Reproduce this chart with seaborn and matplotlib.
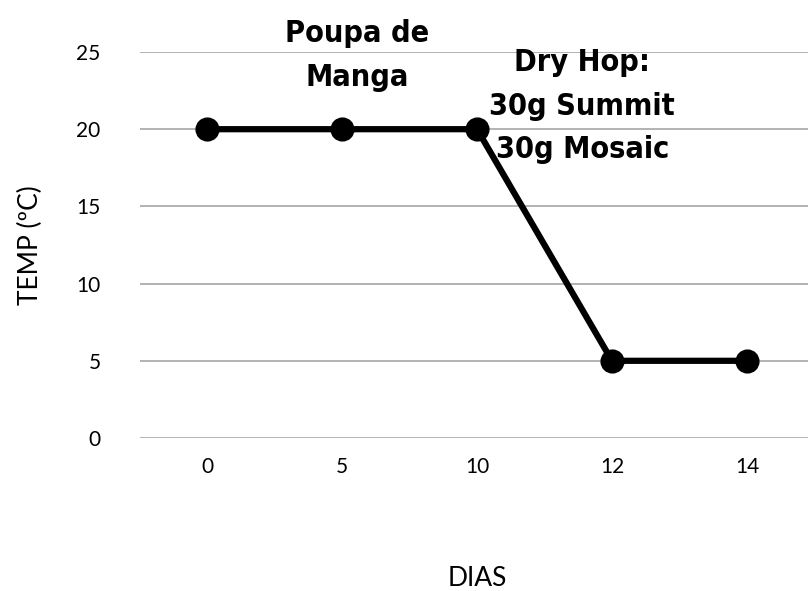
import pandas as pd
import matplotlib.pyplot as plt
import seaborn as sns

# data
dias = ["0", "5", "10", "12", "14"]
temp = [20, 20, 20, 5, 5]
yticks = [0, 5, 10, 15, 20, 25]

df = pd.DataFrame({"DIAS": dias, "TEMP": temp})

sns.set_style("white")
plt.rcParams["font.family"] = ["Lato", "DejaVu Sans"]
plt.rcParams["text.color"] = "black"
plt.rcParams["xtick.color"] = "black"
plt.rcParams["ytick.color"] = "black"
plt.rcParams["axes.labelcolor"] = "black"

fig = plt.figure(figsize=(8.08, 5.91), dpi=100)
ax = fig.add_axes([139.5 / 808, 153 / 591, 675 / 808, 386 / 591])

sns.pointplot(data=df, x="DIAS", y="TEMP", order=dias, color="black",
              markersize=14, linewidth=4.5, ax=ax, zorder=3)

ax.set_ylim(0, 25)
ax.set_xlim(-0.5, 4.5)
ax.set_yticks(yticks)
ax.yaxis.grid(True, color="#a6a6a6", linewidth=1.2)
ax.set_axisbelow(True)
for s in ax.spines.values():
    s.set_visible(False)
for c in ax.collections + ax.lines:
    c.set_clip_on(False)

ax.tick_params(axis="both", length=0, labelsize=15, pad=14)
ax.tick_params(axis="y", pad=28)
ax.set_xlabel("DIAS", fontsize=19, labelpad=64)
ax.set_ylabel("TEMP (ºC)", fontsize=19, labelpad=24)

# annotations (condensed bold, like the original poster font)
ann_font = dict(family="DejaVu Sans", fontstretch="condensed", fontweight="bold",
                fontsize=22, ha="center", va="center", linespacing=1.65)
ax.text(1.11, 24.75, "Poupa de\nManga", **ann_font)
ax.text(2.78, 21.5, "Dry Hop:\n30g Summit\n30g Mosaic", **ann_font)

plt.savefig("out.png", dpi=100)
